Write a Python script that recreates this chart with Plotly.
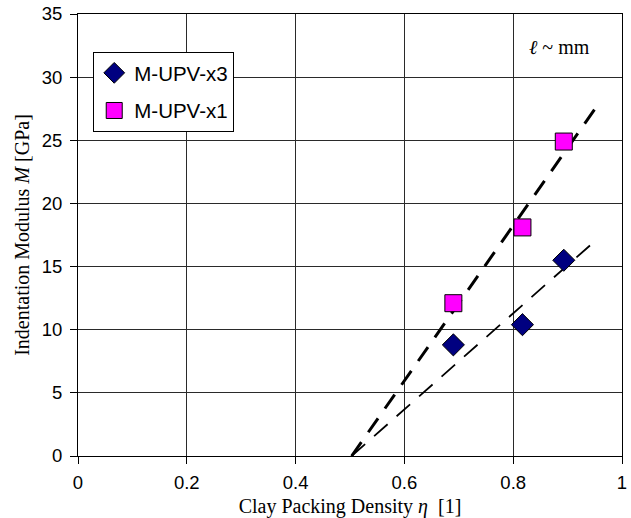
import plotly.graph_objects as go

# Clay packing density of the samples
eta = [0.69, 0.817, 0.893]
# Indentation modulus M [GPa] per series
m_upv_x3 = [8.8, 10.4, 15.5]
m_upv_x1 = [12.1, 18.1, 24.9]

# Linear trend lines (start / end of each line)
trend_eta = [0.503, 0.957]
trend_x1 = [0.0, 27.9]
trend_x3_eta = [0.503, 0.955]
trend_x3 = [0.0, 17.2]

x_ticks = [0, 0.2, 0.4, 0.6, 0.8, 1]
x_tick_text = ["0", "0.2", "0.4", "0.6", "0.8", "1"]
y_ticks = [0, 5, 10, 15, 20, 25, 30, 35]

fig = go.Figure()

fig.add_trace(go.Scatter(
    x=trend_eta, y=trend_x1, mode="lines", showlegend=False,
    line=dict(color="black", width=3, dash="17px,12px"), hoverinfo="skip"))
fig.add_trace(go.Scatter(
    x=trend_x3_eta, y=trend_x3, mode="lines", showlegend=False,
    line=dict(color="black", width=1.8, dash="18px,12px"), hoverinfo="skip"))

fig.add_trace(go.Scatter(
    x=eta, y=m_upv_x3, mode="markers", name="M-UPV-x3",
    legendgroup="a",
    marker=dict(symbol="diamond", size=17, color="#000080",
                line=dict(color="black", width=1))))
fig.add_trace(go.Scatter(
    x=eta, y=m_upv_x1, mode="markers", name="M-UPV-x1",
    legendgroup="b",
    marker=dict(symbol="square", size=17, color="#FF00FF",
                line=dict(color="black", width=1))))

axis_common = dict(
    showline=True, linecolor="black", linewidth=1, mirror=True,
    showgrid=True, gridcolor="#2a2a2a", gridwidth=1,
    ticks="outside", ticklen=7, tickcolor="black",
    tickfont=dict(family="Liberation Sans", size=18.5, color="black"),
    zeroline=False, automargin=False,
)

fig.update_xaxes(
    range=[0, 1], tickvals=x_ticks, ticktext=x_tick_text,
    ticklabelstandoff=3,
    title=dict(text="Clay Packing Density <i>η</i>&nbsp; [1]",
               font=dict(family="Liberation Serif", size=20, color="black"),
               standoff=7),
    **axis_common)
fig.update_yaxes(
    range=[0, 35], tickvals=y_ticks,
    ticklabelstandoff=4,
    title=dict(text="Indentation Modulus <i>M</i> [GPa]",
               font=dict(family="Liberation Serif", size=20, color="black"),
               standoff=6),
    **axis_common)

fig.add_annotation(
    x=0.945, y=0.955, xref="paper", yref="paper", xanchor="right",
    text="<i>ℓ</i> ~ mm", showarrow=False,
    font=dict(family="Liberation Serif", size=20, color="black"))

fig.update_layout(
    width=631, height=518,
    margin=dict(l=78, r=9, t=14, b=62),
    paper_bgcolor="white", plot_bgcolor="white",
    legend=dict(
        x=0.028, y=0.914, xanchor="left", yanchor="top",
        bgcolor="white", bordercolor="black", borderwidth=1,
        font=dict(family="Liberation Sans", size=20.5, color="black"),
        tracegroupgap=8, traceorder="grouped",
    ),
)

fig.write_html("out.html")
